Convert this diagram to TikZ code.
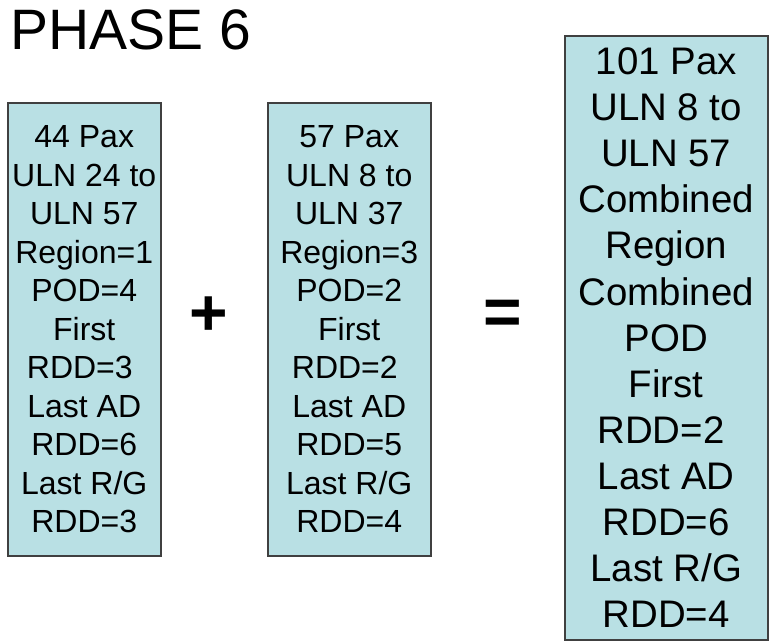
\documentclass[tikz,border=0pt]{standalone}
\usepackage{fontspec}
\setmainfont{Liberation Sans}
\definecolor{boxfill}{RGB}{185,224,228}
\definecolor{boxline}{RGB}{64,64,64}
\newcommand{\trsp}{\hphantom{\ }}
\begin{document}
\begin{tikzpicture}[x=1pt,y=-1pt,
  databox/.style={draw=boxline,line width=1.5pt,fill=boxfill,inner sep=0pt,align=center,anchor=north west},
  smallbox/.style={databox,font=\fontsize{32}{38.5}\selectfont},
  bigbox/.style={databox,font=\fontsize{38.4}{46.1}\selectfont},
  opsign/.style={font=\fontsize{66}{80}\selectfont\bfseries,inner sep=0pt}]
\useasboundingbox (0,0) rectangle (773,641);
\node[anchor=base west,inner sep=0pt,font=\fontsize{57}{68}\selectfont] (title) at (10.5,49) {PHASE 6};
\node[smallbox,minimum width=153,minimum height=453] (b1) at (7,102) {44 Pax\\ULN 24 to\\ULN 57\\Region=1\\POD=4\\First\\RDD=3\trsp\\Last AD\\RDD=6\\Last R/G\\RDD=3};
\node[smallbox,minimum width=163,minimum height=453] (b2) at (267,102) {57 Pax\\ULN 8 to\\ULN 37\\Region=3\\POD=2\\First\\RDD=2\trsp\\Last AD\\RDD=5\\Last R/G\\RDD=4};
\node[bigbox,minimum width=203,minimum height=604] (b3) at (564,35) {101 Pax\\ULN 8 to\\ULN 57\\Combined\\Region\\Combined\\POD\\First\\RDD=2\trsp\\Last AD\\RDD=6\\Last R/G\\RDD=4};
\node[opsign] (plus) at (209,316) {+};
\node[opsign] (eq) at (502.5,317) {=};
\end{tikzpicture}
\end{document}
